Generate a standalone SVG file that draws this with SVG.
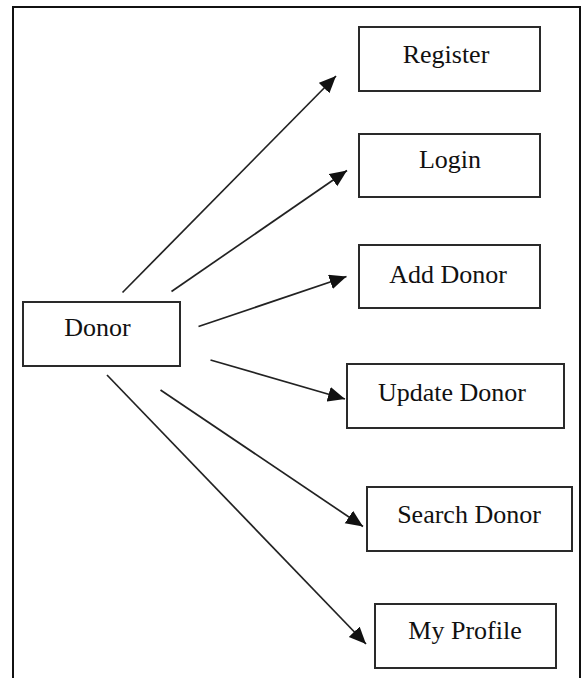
<svg xmlns="http://www.w3.org/2000/svg" width="582" height="678" viewBox="0 0 582 678">
<style>
.box{fill:#fff;stroke:#2a2a2a;stroke-width:2}
.lbl{font-family:"Liberation Serif","Times New Roman",serif;font-size:26px;fill:#111;text-anchor:middle}
.conn{stroke:#222;stroke-width:1.7;fill:none;marker-end:url(#ah)}
</style>
<defs>
<marker id="ah" markerUnits="userSpaceOnUse" markerWidth="20" markerHeight="16" refX="17" refY="7.5" orient="auto">
<path d="M0,0 L17,7.5 L0,15 z" fill="#111"/>
</marker>
</defs>
<rect x="0" y="0" width="582" height="678" fill="#fff"/>
<path d="M13,680 V7 H580 V680" fill="none" stroke="#111" stroke-width="2"/>
<g id="connectors">
<line class="conn" x1="122.5" y1="292.5" x2="336" y2="76"/>
<line class="conn" x1="171.5" y1="291.5" x2="347" y2="170.5"/>
<line class="conn" x1="198.5" y1="326.5" x2="346.5" y2="276.5"/>
<line class="conn" x1="210.5" y1="360" x2="345" y2="399"/>
<line class="conn" x1="160.5" y1="390" x2="363" y2="526.5"/>
<line class="conn" x1="107" y1="375" x2="366" y2="644"/>
</g>
<g id="donor"><rect class="box" x="23" y="302" width="157" height="64"/><text class="lbl" x="97.5" y="336">Donor</text></g>
<g id="register"><rect class="box" x="359" y="27" width="181" height="64"/><text class="lbl" x="446" y="63">Register</text></g>
<g id="login"><rect class="box" x="359" y="134" width="181" height="63"/><text class="lbl" x="450" y="168">Login</text></g>
<g id="add-donor"><rect class="box" x="359" y="245" width="181" height="63"/><text class="lbl" x="448" y="283">Add Donor</text></g>
<g id="update-donor"><rect class="box" x="347" y="364" width="217" height="64"/><text class="lbl" x="452" y="401">Update Donor</text></g>
<g id="search-donor"><rect class="box" x="367" y="487" width="205" height="64"/><text class="lbl" x="469" y="523">Search Donor</text></g>
<g id="my-profile"><rect class="box" x="375" y="604" width="181" height="64"/><text class="lbl" x="465" y="639">My Profile</text></g>
</svg>
